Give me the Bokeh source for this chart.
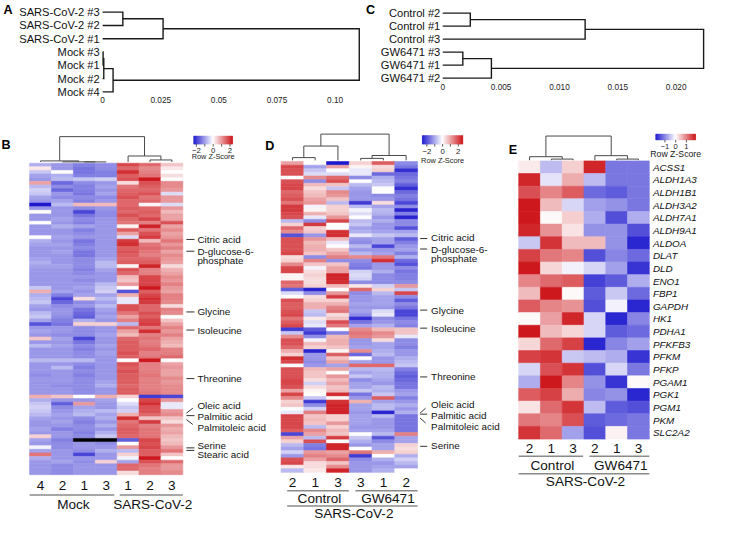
import numpy as np
from bokeh.plotting import figure
from bokeh.models import Range1d, LinearColorMapper, ColumnDataSource
from bokeh.transform import transform
from bokeh.core.properties import value
from bokeh.embed import file_html
from bokeh.resources import INLINE

nan = float("nan")

# ------------------------------------------------------------------ data
A_leaves = ["SARS-CoV-2 #3", "SARS-CoV-2 #2", "SARS-CoV-2 #1",
            "Mock #3", "Mock #1", "Mock #2", "Mock #4"]
A_link = [("SARS-CoV-2 #3", "SARS-CoV-2 #2", 0.0087),
          (0, "SARS-CoV-2 #1", 0.0260),
          ("Mock #3", "Mock #1", 0.0002),
          (2, "Mock #2", 0.0005),
          (3, "Mock #4", 0.0045),
          (1, 4, 0.1104)]
A_ticks = [0, 0.025, 0.05, 0.075, 0.10]
A_tick_labels = ["0", "0.025", "0.05", "0.075", "0.10"]

C_leaves = ["Control #2", "Control #1", "Control #3",
            "GW6471 #3", "GW6471 #1", "GW6471 #2"]
C_link = [("Control #2", "Control #1", 0.00236),
          (0, "Control #3", 0.0122),
          ("GW6471 #3", "GW6471 #1", 0.00172),
          (2, "GW6471 #2", 0.00417),
          (1, 3, 0.02235)]
C_ticks = [0, 0.005, 0.010, 0.015, 0.020]
C_tick_labels = ["0", "0.005", "0.010", "0.015", "0.020"]

B_samples = ["Mock #4", "Mock #2", "Mock #1", "Mock #3",
             "SARS-CoV-2 #1", "SARS-CoV-2 #2", "SARS-CoV-2 #3"]
B_labels = ["Citric acid", "D-glucose-6-\nphosphate", "Glycine", "Isoleucine",
            "Threonine", "Oleic acid", "Palmitic acid", "Palmitoleic acid",
            "Serine", "Stearic acid"]
B_label_rows = [21.05, 24.3, 41.07, 46.07, 59.47, 69.0, 69.7, 70.8, 78.6, 79.3]
B_values = [
    [-0.7, -0.9, -1.1, -1.0, 1.6, 1.3, 0.5],
    [0.2, -0.9, -1.2, -1.0, 1.3, 1.0, 0.2],
    [-0.5, 0.0, -1.2, -1.1, 1.8, 1.1, 0.0],
    [-0.8, -0.7, -1.1, -1.1, 1.4, 1.2, 0.3],
    [-0.9, -0.6, -0.5, -0.4, 1.5, 2.0, 0.0],
    [0.8, -1.3, -1.0, -0.9, 0.3, 1.5, 1.0],
    [-0.6, -1.0, -1.1, -0.8, 1.2, 1.4, 1.0],
    [-0.4, -1.3, -1.1, -0.9, 1.3, 1.3, 0.9],
    [-0.5, -0.9, -1.2, -0.8, 1.4, 1.5, -0.3],
    [-0.8, -1.0, -1.0, -1.0, 1.5, 1.2, 0.9],
    [-0.9, -0.8, -1.1, -0.9, 1.3, 1.3, 0.9],
    [-2.0, -0.6, 0.6, 0.6, 1.3, 0.1, -0.3],
    [-0.9, -0.9, -1.0, -0.9, 1.4, 1.3, 0.9],
    [0.0, -0.9, -1.6, -1.0, 1.3, 1.4, 0.6],
    [-0.9, -0.9, -1.2, -1.0, 1.5, 1.3, 0.8],
    [-0.9, -0.8, -1.0, -0.9, 1.3, 1.6, 0.8],
    [0.0, -0.9, -1.1, -0.9, 1.2, 1.1, 1.5],
    [-0.9, -0.7, -0.8, -0.9, 0.1, 1.9, 0.8],
    [-0.9, -0.9, -1.1, -0.9, 1.4, 1.2, 1.0],
    [-0.9, -0.9, -1.0, -0.9, 0.8, 1.5, 0.8],
    [0.0, -0.8, -0.9, -0.9, -0.3, 1.7, 0.9],
    [-0.7, -0.9, -1.2, -0.9, 1.7, 0.6, 1.2],
    [-0.8, -0.8, -1.1, -0.9, 1.8, 1.2, 0.9],
    [-0.9, -0.9, -1.0, -0.9, 1.4, 1.3, 1.1],
    [-0.9, -0.8, -1.2, -0.9, 1.5, 1.2, 0.8],
    [-0.9, -0.9, -1.2, -0.9, 1.4, 1.1, 1.0],
    [-0.8, -0.9, -1.0, -0.8, 1.3, 1.3, 0.9],
    [-0.7, -0.9, -1.0, -0.6, 1.4, 1.4, 0.8],
    [-0.8, -0.8, -1.0, -0.6, 0.1, 1.9, 0.3],
    [-0.9, -0.9, -1.1, -0.8, 1.5, 1.1, 0.7],
    [-0.9, -0.9, -1.0, -0.9, 1.3, 1.1, 0.8],
    [-0.9, -0.9, -0.9, -0.9, 0.6, 1.6, 1.0],
    [-0.9, -0.9, -1.0, -0.9, 0.5, 1.6, 0.9],
    [-0.9, -0.9, -0.9, -0.6, 0.9, 1.6, 1.1],
    [-0.5, -0.9, -0.8, -0.5, 0.0, 2.0, 0.9],
    [0.7, -0.8, -0.9, -0.4, -1.5, 1.4, 0.8],
    [-0.7, -1.1, -0.8, -0.8, 0.7, 1.6, 1.1],
    [-0.6, -1.6, 0.3, -0.6, -0.2, 1.8, 1.1],
    [-0.5, -1.3, -1.0, -0.8, -0.2, 1.7, 1.0],
    [-0.8, -1.0, -0.9, -0.6, 1.5, 1.3, 0.3],
    [-0.9, -0.9, -1.2, -0.8, 1.5, 1.3, 1.1],
    [-0.6, -0.9, -1.3, -0.9, 1.2, 1.5, 1.0],
    [-0.5, -1.0, -1.4, -0.8, 0.8, 1.4, 0.0],
    [-0.8, -1.1, -0.7, -0.9, 1.1, 1.6, 0.5],
    [-1.5, -1.2, 0.4, 0.4, -0.6, 1.7, 0.8],
    [-0.9, -0.9, -1.0, -0.9, 1.3, 1.2, 1.1],
    [-0.8, -0.9, -1.0, -0.9, 0.8, 1.8, 0.9],
    [-0.9, -1.0, -1.0, -0.8, 0.6, 1.1, 1.1],
    [0.5, -0.8, -1.6, -0.9, 1.3, 1.2, 0.8],
    [-0.9, -0.9, -1.2, -0.9, 1.4, 1.1, 0.7],
    [-0.6, -0.8, -1.0, -0.8, 1.4, 1.2, 0.6],
    [-0.9, -0.9, -1.1, -0.9, 1.4, 1.3, 1.1],
    [-0.9, -0.9, -1.0, -0.8, 1.5, 1.1, 1.1],
    [-0.9, -0.9, -1.0, -0.9, 1.4, 1.2, 1.3],
    [-0.6, -0.6, -0.6, -0.9, 0.0, 2.0, 0.0],
    [-0.9, -0.9, -1.0, -0.9, 1.5, 1.1, 0.8],
    [-0.9, -0.6, -1.1, -0.9, 1.4, 1.1, 0.9],
    [-0.9, -0.9, -1.0, -0.9, 1.5, 1.1, 0.8],
    [-1.0, -0.9, -1.1, -0.9, 1.4, 1.2, 0.8],
    [-0.9, -0.9, -1.0, -0.9, 1.4, 1.1, 1.0],
    [-0.9, -0.9, -1.0, -0.8, 1.4, 1.1, 0.9],
    [-0.9, -1.0, -1.0, -0.7, 1.3, 1.1, 1.0],
    [-0.9, -0.9, -1.0, -0.9, 1.4, 1.1, 1.0],
    [-0.9, -0.9, -1.0, -0.9, 1.4, 1.2, 1.0],
    [0.7, 0.5, 0.0, 0.7, 0.4, -1.7, -1.6],
    [-0.7, -0.9, -0.9, -0.8, 0.0, 1.6, 0.9],
    [-0.5, -1.4, 0.9, -0.9, -0.3, 1.8, -0.2],
    [-0.4, -1.0, -0.8, -0.9, -0.5, 1.5, -0.2],
    [-0.5, -0.9, -0.7, -0.6, -0.4, 1.5, 0.9],
    [-0.6, -0.8, -0.6, -0.8, 0.7, 1.3, 1.0],
    [-0.8, -0.9, -1.0, -0.7, 1.8, 0.5, 0.5],
    [-0.9, -0.8, -1.1, -0.9, 1.2, 1.7, 0.3],
    [-0.9, -0.9, -1.0, -0.7, 1.3, 1.1, 0.9],
    [-0.8, -1.1, -1.0, -0.9, 1.4, 1.2, 0.7],
    [-0.9, -0.9, -1.1, -0.7, 1.4, 1.2, 0.8],
    [0.4, -0.9, -1.0, -0.5, 1.3, 1.2, 0.6],
    [-0.8, -1.1, nan, nan, -1.4, 1.6, 0.5],
    [-0.9, -1.0, -0.9, -1.0, 0.0, 1.5, 0.6],
    [-0.1, -1.0, -0.9, -0.9, 0.9, 1.6, 0.9],
    [-0.8, -0.9, -1.0, -0.7, -0.6, 1.4, 1.2],
    [1.2, -0.9, -1.6, -0.9, 0.4, 1.4, 0.5],
    [-0.7, -0.9, -0.9, -0.9, -0.1, 2.0, 0.0],
    [-0.9, -0.8, -1.0, 0.4, -0.8, 1.5, 1.3],
    [-0.9, -1.0, -0.9, -0.9, 1.3, 1.2, 0.9],
    [-0.9, -1.0, -0.9, -0.9, 1.3, 1.1, 0.9],
    [-0.9, -1.0, -0.9, -0.9, 0.3, 1.1, 1.0],
]

D_samples = ["Control #2", "Control #1", "Control #3",
             "GW6471 #3", "GW6471 #1", "GW6471 #2"]
D_condition = "SARS-CoV-2"
D_labels = ["Citric acid", "D-glucose-6-\nphosphate", "Glycine", "Isoleucine",
            "Threonine", "Oleic acid", "Palmitic acid", "Palmitoleic acid", "Serine"]
D_label_rows = [21.3, 24.2, 41.1, 46.1, 59.6, 69.6, 69.9, 71.0, 78.8]
D_values = [
    [0.8, 0.0, -2.0, 0.4, 1.4, -1.0],
    [1.6, -0.8, 0.8, 0.1, 0.3, -1.2],
    [1.5, -0.5, 0.0, -0.2, 0.4, -1.8],
    [1.5, -0.3, -0.3, -0.2, -1.3, -1.3],
    [0.0, 1.0, 1.3, -1.0, -0.7, -1.2],
    [1.5, -1.0, 1.5, 0.0, -0.6, -1.1],
    [1.6, 0.6, 0.5, -0.6, -0.5, -1.4],
    [1.6, 0.3, -0.5, -0.8, 0.0, -1.8],
    [1.3, 0.5, 1.0, -0.9, 0.0, -1.3],
    [1.4, 0.6, 0.9, -0.9, -1.0, -1.1],
    [1.5, 0.8, 0.5, -0.9, -0.9, -1.2],
    [1.2, 0.9, -0.6, -1.7, 0.3, -1.6],
    [1.7, -0.1, 0.4, -0.6, -0.8, -1.0],
    [1.7, 0.1, 0.4, -0.1, -0.6, -1.9],
    [1.6, 0.7, 0.5, -0.3, -0.7, -1.1],
    [1.5, -0.2, 0.9, 0.0, -0.9, -1.9],
    [-0.6, -1.0, 1.6, -0.6, -0.7, -1.0],
    [0.4, 1.7, 0.0, -0.5, -0.9, -1.0],
    [1.3, 0.4, 0.0, -0.8, -0.9, -1.5],
    [1.0, 0.5, 1.8, -0.7, -0.8, -0.8],
    [-1.5, -0.9, 1.8, -0.2, -0.5, -0.6],
    [1.5, 0.9, 0.6, -0.9, -0.8, -1.4],
    [1.5, 0.6, -0.2, -1.0, -0.8, -1.1],
    [1.5, 0.7, 0.0, -0.6, -1.6, -0.9],
    [1.5, 0.7, 0.5, -0.9, -0.9, -0.8],
    [1.6, 0.5, 0.8, -0.6, -0.8, -1.1],
    [0.3, -1.0, 1.1, 1.0, 1.2, -0.7],
    [0.4, 1.1, -1.0, -1.0, 1.8, -1.3],
    [1.0, 0.5, 0.5, -1.1, -0.9, -1.5],
    [1.6, -0.1, 0.8, -1.2, -0.9, -1.0],
    [1.6, 0.3, 0.8, -0.4, -0.7, -1.2],
    [0.1, 0.4, 1.9, -0.3, -1.0, -1.1],
    [0.1, 0.3, 1.9, -0.4, -1.0, -1.1],
    [1.3, 0.3, 1.8, -1.0, -1.0, -1.0],
    [1.2, 0.4, 0.6, 0.2, -0.4, 0.9],
    [-1.4, -1.9, 0.0, 1.3, 0.4, -0.5],
    [-0.3, -1.0, 0.9, -1.0, -0.6, 1.6],
    [0.0, 0.3, 1.7, -0.9, -0.8, -1.0],
    [1.5, 0.4, 0.4, -0.9, -0.8, -1.4],
    [1.4, 0.7, 0.7, -0.8, -0.8, -1.0],
    [1.4, 0.7, 1.1, -0.9, -0.9, -1.2],
    [1.5, -0.5, 1.2, -0.8, -0.3, -1.6],
    [1.6, -0.6, 0.3, -1.0, -0.2, -1.6],
    [1.2, 0.2, 0.5, -1.8, -1.0, -1.2],
    [1.4, -0.3, 1.5, -1.2, -0.9, -1.0],
    [1.6, -0.2, 1.2, -0.8, -0.7, -1.1],
    [-1.7, -1.4, 0.0, 1.0, 0.6, 0.5],
    [-0.5, -1.7, -1.1, 1.2, 1.0, 0.5],
    [1.0, -1.0, 0.6, 1.1, 0.9, -0.2],
    [1.5, -0.1, 0.7, -0.9, 0.3, -1.0],
    [1.5, 0.6, 0.7, -0.9, -0.8, -1.0],
    [1.3, 0.4, 0.5, -0.8, -0.8, -1.1],
    [0.7, -1.9, 0.1, 1.0, -0.7, -0.9],
    [0.4, -0.9, 1.4, -1.3, -0.6, -0.9],
    [1.8, -0.9, 0.5, 0.0, -0.9, -0.7],
    [1.6, -1.0, 0.8, -0.8, -0.9, -0.6],
    [0.0, -0.9, -0.8, 1.3, 1.3, -0.5],
    [1.5, 0.6, 0.8, -0.6, -0.6, -1.1],
    [1.5, 0.5, 0.0, -0.8, -0.7, -1.3],
    [1.5, 0.5, 0.9, -0.5, -0.7, -1.4],
    [1.6, 0.3, 0.6, -1.0, -0.8, -1.3],
    [1.6, -0.4, 0.8, -0.8, -0.9, -1.2],
    [1.5, 0.3, 0.5, -0.8, -0.6, -1.2],
    [0.8, 0.1, 0.6, -0.5, -0.7, -0.9],
    [1.6, 0.0, 1.8, -1.2, -0.5, -0.8],
    [1.0, -0.5, 0.1, -0.9, 1.4, -1.1],
    [0.4, -1.7, 1.8, 0.7, -0.8, -0.9],
    [0.5, -1.0, 1.9, -0.8, -0.6, -0.7],
    [0.0, -0.4, 1.9, -0.8, -0.6, -0.9],
    [-0.2, 1.1, 1.9, -0.9, -1.9, -0.7],
    [1.6, 0.5, 0.4, -0.8, -0.6, -1.2],
    [1.6, 0.6, 0.4, -0.8, -0.9, -1.2],
    [1.6, 0.5, 0.9, -0.8, -0.9, -1.2],
    [1.6, -0.6, 0.4, -0.9, -0.9, -1.2],
    [1.4, 1.0, 0.6, -0.8, -0.8, -1.2],
    [-1.6, 0.8, 0.5, 0.0, -0.6, 1.1],
    [0.8, -0.6, 1.7, -0.5, -1.5, -0.8],
    [0.4, 1.5, 0.0, -0.7, -1.0, -0.8],
    [-0.6, -1.1, 1.9, -0.9, -0.8, 0.4],
    [-0.8, -1.2, 1.9, 0.0, -0.8, 0.3],
    [-0.4, 0.9, 0.8, 1.2, 0.7, 0.4],
    [-0.9, 1.1, 1.0, -1.7, 0.0, -0.7],
    [1.5, 0.8, 1.3, -1.0, -0.7, -0.4],
    [1.6, 0.3, 0.5, -0.9, -0.9, -0.6],
    [0.2, 0.3, 1.0, -0.9, -0.8, -0.8],
    [-0.6, 0.2, 1.9, -0.9, -0.7, 0.0],
]

E_samples = ["Control #2", "Control #1", "Control #3",
             "GW6471 #2", "GW6471 #1", "GW6471 #3"]
E_condition = "SARS-CoV-2"
E_link = [("Control #1", "Control #3", 0.046),
          ("Control #2", 0, 0.145),
          ("GW6471 #1", "GW6471 #3", 0.046),
          ("GW6471 #2", 2, 0.187),
          (1, 3, 1.0)]
E_genes = ["ACSS1", "ALDH1A3", "ALDH1B1", "ALDH3A2", "ALDH7A1", "ALDH9A1", "ALDOA",
           "DLAT", "DLD", "ENO1", "FBP1", "GAPDH", "HK1", "PDHA1", "PFKFB3", "PFKM",
           "PFKP", "PGAM1", "PGK1", "PGM1", "PKM", "SLC2A2"]
E_values = [
    [0.15, -0.5, 0.35, 1.6, -1.0, -1.0],
    [1.6, -0.2, 0.6, -0.5, -1.0, -1.0],
    [1.3, 0.9, 1.2, -1.1, -1.2, -1.0],
    [1.7, 0.5, -0.3, -0.7, -0.8, -1.0],
    [1.7, 0.05, 0.35, -0.6, -1.3, -0.6],
    [1.6, 0.8, 0.2, -0.8, -0.8, -1.3],
    [-0.4, 1.5, 0.5, 0.5, -0.8, -1.6],
    [1.4, 1.0, 0.9, -1.3, -0.9, -1.1],
    [1.7, 0.3, -0.1, -0.3, -0.7, -1.5],
    [0.9, 1.1, 1.2, -1.4, -1.2, -0.6],
    [0.5, 1.7, 0.05, -1.2, -0.4, -1.1],
    [1.2, 0.9, 0.8, -1.3, -0.1, -1.6],
    [0.05, 0.7, 1.6, -0.3, -1.6, -0.9],
    [1.7, 0.5, 0.3, -0.3, -1.2, -1.1],
    [0.3, 1.1, 1.4, -1.6, -0.9, -0.7],
    [1.4, 1.5, -0.4, -0.5, -0.6, -1.5],
    [-0.3, 1.3, 1.5, -1.3, -0.3, -1.0],
    [-0.6, 1.7, 0.9, -0.8, -1.5, 0.05],
    [1.2, 1.4, 0.6, -0.9, -0.8, -1.6],
    [0.2, 1.1, 1.5, -0.5, -1.2, -1.3],
    [1.0, 0.9, 1.3, -1.2, -1.1, -1.0],
    [1.5, 1.1, -0.7, -1.3, 0.1, -1.0],
]

# ------------------------------------------------------------------ style / layout
PW, PH = 729, 538
Y_TOP, Y_BOT = 3, 3 + PH
S = 0.97
FONT = value("Liberation Sans")
INK = "#111111"
RULE = "#8a8a8a"


def fs(px):
    return f"{px * S:.2f}px"


def ramp(n=256):
    lo, mid, hi = np.array([30, 25, 205]), np.array([255, 255, 255]), np.array([205, 25, 30])
    cols = []
    for t in np.linspace(0, 1, n):
        c = lo + (mid - lo) * (t / 0.5) if t <= 0.5 else mid + (hi - mid) * ((t - 0.5) / 0.5)
        cols.append("#%02x%02x%02x" % tuple(int(round(v)) for v in c))
    return cols


PAL = ramp()

p = figure(width=round(PW * S), height=round(PH * S),
           x_range=Range1d(0, PW), y_range=Range1d(Y_BOT, Y_TOP),
           output_backend="svg", toolbar_location=None,
           x_axis_type=None, y_axis_type=None, min_border=0,
           outline_line_color=None, background_fill_color="white",
           border_fill_color="white")


def xr(name, p0, p1, d0, d1):
    k = (p1 - p0) / (d1 - d0)
    p.extra_x_ranges[name] = Range1d(d0 - p0 / k, d0 + (PW - p0) / k)


def yr(name, p0, p1, d0, d1):
    k = (p1 - p0) / (d1 - d0)
    p.extra_y_ranges[name] = Range1d(d0 + (Y_BOT - p0) / k, d0 + (Y_TOP - p0) / k)


def text(x, y, t, size, xn="default", yn="default", align="center", base="middle",
         style="normal", xo=0, yo=0, color=INK):
    src = ColumnDataSource(dict(x=list(x), y=list(y), t=list(t),
                                yo=list(yo) if isinstance(yo, (list, tuple)) else [yo] * len(t)))
    p.text(x="x", y="y", text="t", source=src, x_range_name=xn, y_range_name=yn,
           text_font=FONT, text_font_size=fs(size), text_align=align, text_baseline=base,
           text_font_style=style, text_color=color, x_offset=xo * S, y_offset="yo")


def dendro(link, leaf_pos, horizontal, xn, yn, color, width):
    pos = dict(leaf_pos)
    hgt = {k: 0.0 for k in leaf_pos}
    xs, ys = [], []
    for i, (a, b, h) in enumerate(link):
        pp = [pos[a], pos[a], pos[b], pos[b]]
        hh = [hgt[a], h, h, hgt[b]]
        if horizontal:
            xs.append(hh); ys.append(pp)
        else:
            xs.append(pp); ys.append(hh)
        pos[i] = (pos[a] + pos[b]) / 2.0
        hgt[i] = h
    p.multi_line(xs, ys, line_color=color, line_width=width, line_join="miter",
                 x_range_name=xn, y_range_name=yn)


def heat(key, values, x0, x1, y0, y1, mapper):
    z = np.array(values, dtype=float)
    nr, nc = z.shape
    xr(key + "x", x0, x1, 0, nc)
    yr(key + "y", y0, y1, 0, nr)
    rr, cc = np.meshgrid(np.arange(nr), np.arange(nc), indexing="ij")
    src = ColumnDataSource(dict(l=cc.ravel(), r=cc.ravel() + 1, t=rr.ravel(),
                                b=rr.ravel() + 1, z=z.ravel()))
    p.quad(left="l", right="r", top="t", bottom="b", source=src,
           fill_color=transform("z", mapper), line_color=transform("z", mapper),
           line_width=0.6, x_range_name=key + "x", y_range_name=key + "y")
    return nr, nc, (x1 - x0) / nc, (y1 - y0) / nr


def col_annot(key, samples, y_dig, y_line, y_grp, gaps, sup=None, y_line2=None, y_sup=None):
    nc = len(samples)
    xn = key + "x"
    text([j + 0.5 for j in range(nc)], [y_dig] * nc, [s.split("#")[1] for s in samples], 14, xn=xn)
    names = [s.split(" #")[0] for s in samples]
    runs = []
    for j, g in enumerate(names):
        if runs and runs[-1][0] == g:
            runs[-1][2] = j + 1
        else:
            runs.append([g, j, j + 1])
    outer, inner_end, inner_start = gaps
    x0s = [a + (inner_start if a > 0 else outer) for _, a, b in runs]
    x1s = [b - (inner_end if b < nc else 0) for _, a, b in runs]
    p.segment(x0=x0s, y0=[y_line] * len(runs), x1=x1s, y1=[y_line] * len(runs),
              x_range_name=xn, line_color=RULE, line_width=1.4)
    text([(a + b) / 2 for a, b in zip(x0s, x1s)], [y_grp] * len(runs), [r[0] for r in runs], 14,
         xn=xn, xo=1.5)
    if sup:
        p.segment(x0=[outer], y0=[y_line2], x1=[nc], y1=[y_line2], x_range_name=xn,
                  line_color=RULE, line_width=1.4)
        text([(outer + nc) / 2], [y_sup], [sup], 14, xn=xn, xo=1.5)


def row_labels(key, labels, rows, shifts, nc, cw, rh, t0, t1, tx):
    xn, yn = key + "x", key + "y"
    sx0, sy0, sx1, sy1 = [], [], [], []
    tx_, ty_, tt, toff = [], [], [], []
    for lab, r, (tdy, cdy) in zip(labels, rows, shifts):
        sx0.append(nc + t0 / cw); sy0.append(r)
        sx1.append(nc + (t1 if cdy == 0 else t1 - 1.7) / cw); sy1.append(r + cdy / rh)
        for i, line in enumerate(lab.split("\n")):
            tx_.append(nc); ty_.append(r); tt.append(line); toff.append((tdy + i * 9.6) * S)
    p.segment(x0=sx0, y0=sy0, x1=sx1, y1=sy1, x_range_name=xn, y_range_name=yn,
              line_color="#333333", line_width=1.0)
    text(tx_, ty_, tt, 10.2, xn=xn, yn=yn, align="left", xo=tx, yo=toff)


def color_key(name, x0, x1, y0, y1, lo, hi, ticks, labels, y_lab, y_title, f_lab, f_title):
    xr(name, x0, x1, lo, hi)
    km = LinearColorMapper(palette=PAL, low=lo, high=hi)
    e = np.linspace(lo, hi, 81)
    src = ColumnDataSource(dict(l=e[:-1], r=e[1:], z=(e[:-1] + e[1:]) / 2))
    p.quad(left="l", right="r", top=y0, bottom=y1, source=src, x_range_name=name,
           fill_color=transform("z", km), line_color=transform("z", km), line_width=0.5)
    p.segment(x0=ticks, y0=[y1] * len(ticks), x1=ticks, y1=[y1 + 2.6] * len(ticks),
              x_range_name=name, line_color="#333333", line_width=0.8)
    lab_x = [t for t, l in zip(ticks, labels) if l]
    text(lab_x, [y_lab] * len(lab_x), [l for l in labels if l], f_lab, xn=name, color="#222222")
    text([(lo + hi) / 2], [y_title], ["Row Z-Score"], f_title, xn=name, color="#222222")


# ------------------------------------------------------------------ panel A
xr("ax", 105.3, 345.0, 0.0, 0.10)
yr("ay", 15.0, 97.2, 0, len(A_leaves) - 1)
dendro(A_link, {n: i for i, n in enumerate(A_leaves)}, True, "ax", "ay", "#1a1a1a", 1.4)
text([0] * len(A_leaves), list(range(len(A_leaves))), A_leaves, 11.5, xn="ax", yn="ay",
     align="right", xo=-3)
text(A_ticks, [105.7] * len(A_ticks), A_tick_labels, 8.5, xn="ax", color="#222222")

# ------------------------------------------------------------------ panel C
xr("cx", 456.0, 696.7, 0.0, 0.020)
yr("cy", 16.0, 83.0, 0, len(C_leaves) - 1)
dendro(C_link, {n: i for i, n in enumerate(C_leaves)}, True, "cx", "cy", "#1a1a1a", 1.4)
text([0] * len(C_leaves), list(range(len(C_leaves))), C_leaves, 11.5, xn="cx", yn="cy",
     align="right", xo=-2.5)
text(C_ticks, [91.7] * len(C_ticks), C_tick_labels, 8.5, xn="cx", color="#222222")

# ------------------------------------------------------------------ panel B
mBD = LinearColorMapper(palette=PAL, low=-2.0, high=2.0, nan_color="black")
nr, nc, cw, rh = heat("b", B_values, 30.0, 188.0, 170.7, 491.7, mBD)
yr("bh", 169.4, 143.3, 0, A_link[-1][2])
dendro(A_link, {s: j + 0.5 for j, s in enumerate(B_samples)}, False, "bx", "bh", "#4a4a4a", 1.0)
col_annot("b", B_samples, 503.3, 512.7, 522.7, (0.0, 0.13, 0.12))
row_labels("b", B_labels, B_label_rows,
           [(0, 0), (0, 0), (0, 0), (0, 0), (0, 0), (-7.6, -5), (1.0, 0), (8.3, 5), (-2.3, 0), (4.0, 0)],
           nc, cw, rh, 3.7, 12.0, 15.0)
color_key("bk", 199.3, 239.3, 142.7, 151.0, -2.31, 2.31, [-2, -1, 0, 1, 2],
          ["\u22122", "", "0", "", "2"], 157.5, 164.2, 8.0, 7.6)

# ------------------------------------------------------------------ panel D
nr, nc, cw, rh = heat("d", D_values, 289.3, 430.0, 169.0, 489.3, mBD)
yr("dh", 167.8, 140.7, 0, C_link[-1][2])
dendro(C_link, {s: j + 0.5 for j, s in enumerate(D_samples)}, False, "dx", "dh", "#4a4a4a", 1.0)
col_annot("d", D_samples, 500.0, 508.3, 516.7, (0.27, 0.02, 0.27), D_condition, 524.0, 531.7)
row_labels("d", D_labels, D_label_rows,
           [(-1, 0), (0.3, 0), (0, 0), (0, 0), (-0.5, 0), (-9.3, -5), (1.4, 0), (9.0, 5), (-0.6, 0)],
           nc, cw, rh, 2.7, 10.0, 14.0)
color_key("dk", 435.0, 476.7, 142.3, 151.0, -2.58, 2.58, [-2, -1, 0, 1, 2],
          ["\u22122", "", "0", "", "2"], 158.7, 168.2, 8.0, 7.6)

# ------------------------------------------------------------------ panel E
mE = LinearColorMapper(palette=PAL, low=-1.7, high=1.7)
nr, nc, cw, rh = heat("e", E_values, 534.3, 669.0, 168.3, 455.0, mE)
yr("eh", 167.6, 142.7, 0, E_link[-1][2])
dendro(E_link, {s: j + 0.5 for j, s in enumerate(E_samples)}, False, "ex", "eh", "#4a4a4a", 1.0)
col_annot("e", E_samples, 465.0, 472.7, 482.7, (0.0, 0.04, 0.25), E_condition, 490.7, 499.0)
text([nc] * nr, [r + 0.5 for r in range(nr)], E_genes, 10.2, xn="ex", yn="ey",
     align="left", style="italic", xo=3.7)
color_key("ek", 675.7, 716.7, 140.7, 146.7, -1.85, 1.85, [-1, 0, 1],
          ["\u22121", "0", "1"], 153.6, 161.7, 7.8, 9.0)

# ------------------------------------------------------------------ panel letters
text([3, 377, 1, 273, 524], [12.5, 13.3, 151.7, 153.3, 156.7], ["A", "C", "B", "D", "E"], 13,
     align="left", base="alphabetic", style="bold", color="#000000")

open("out.html", "w").write(file_html(p, INLINE))
